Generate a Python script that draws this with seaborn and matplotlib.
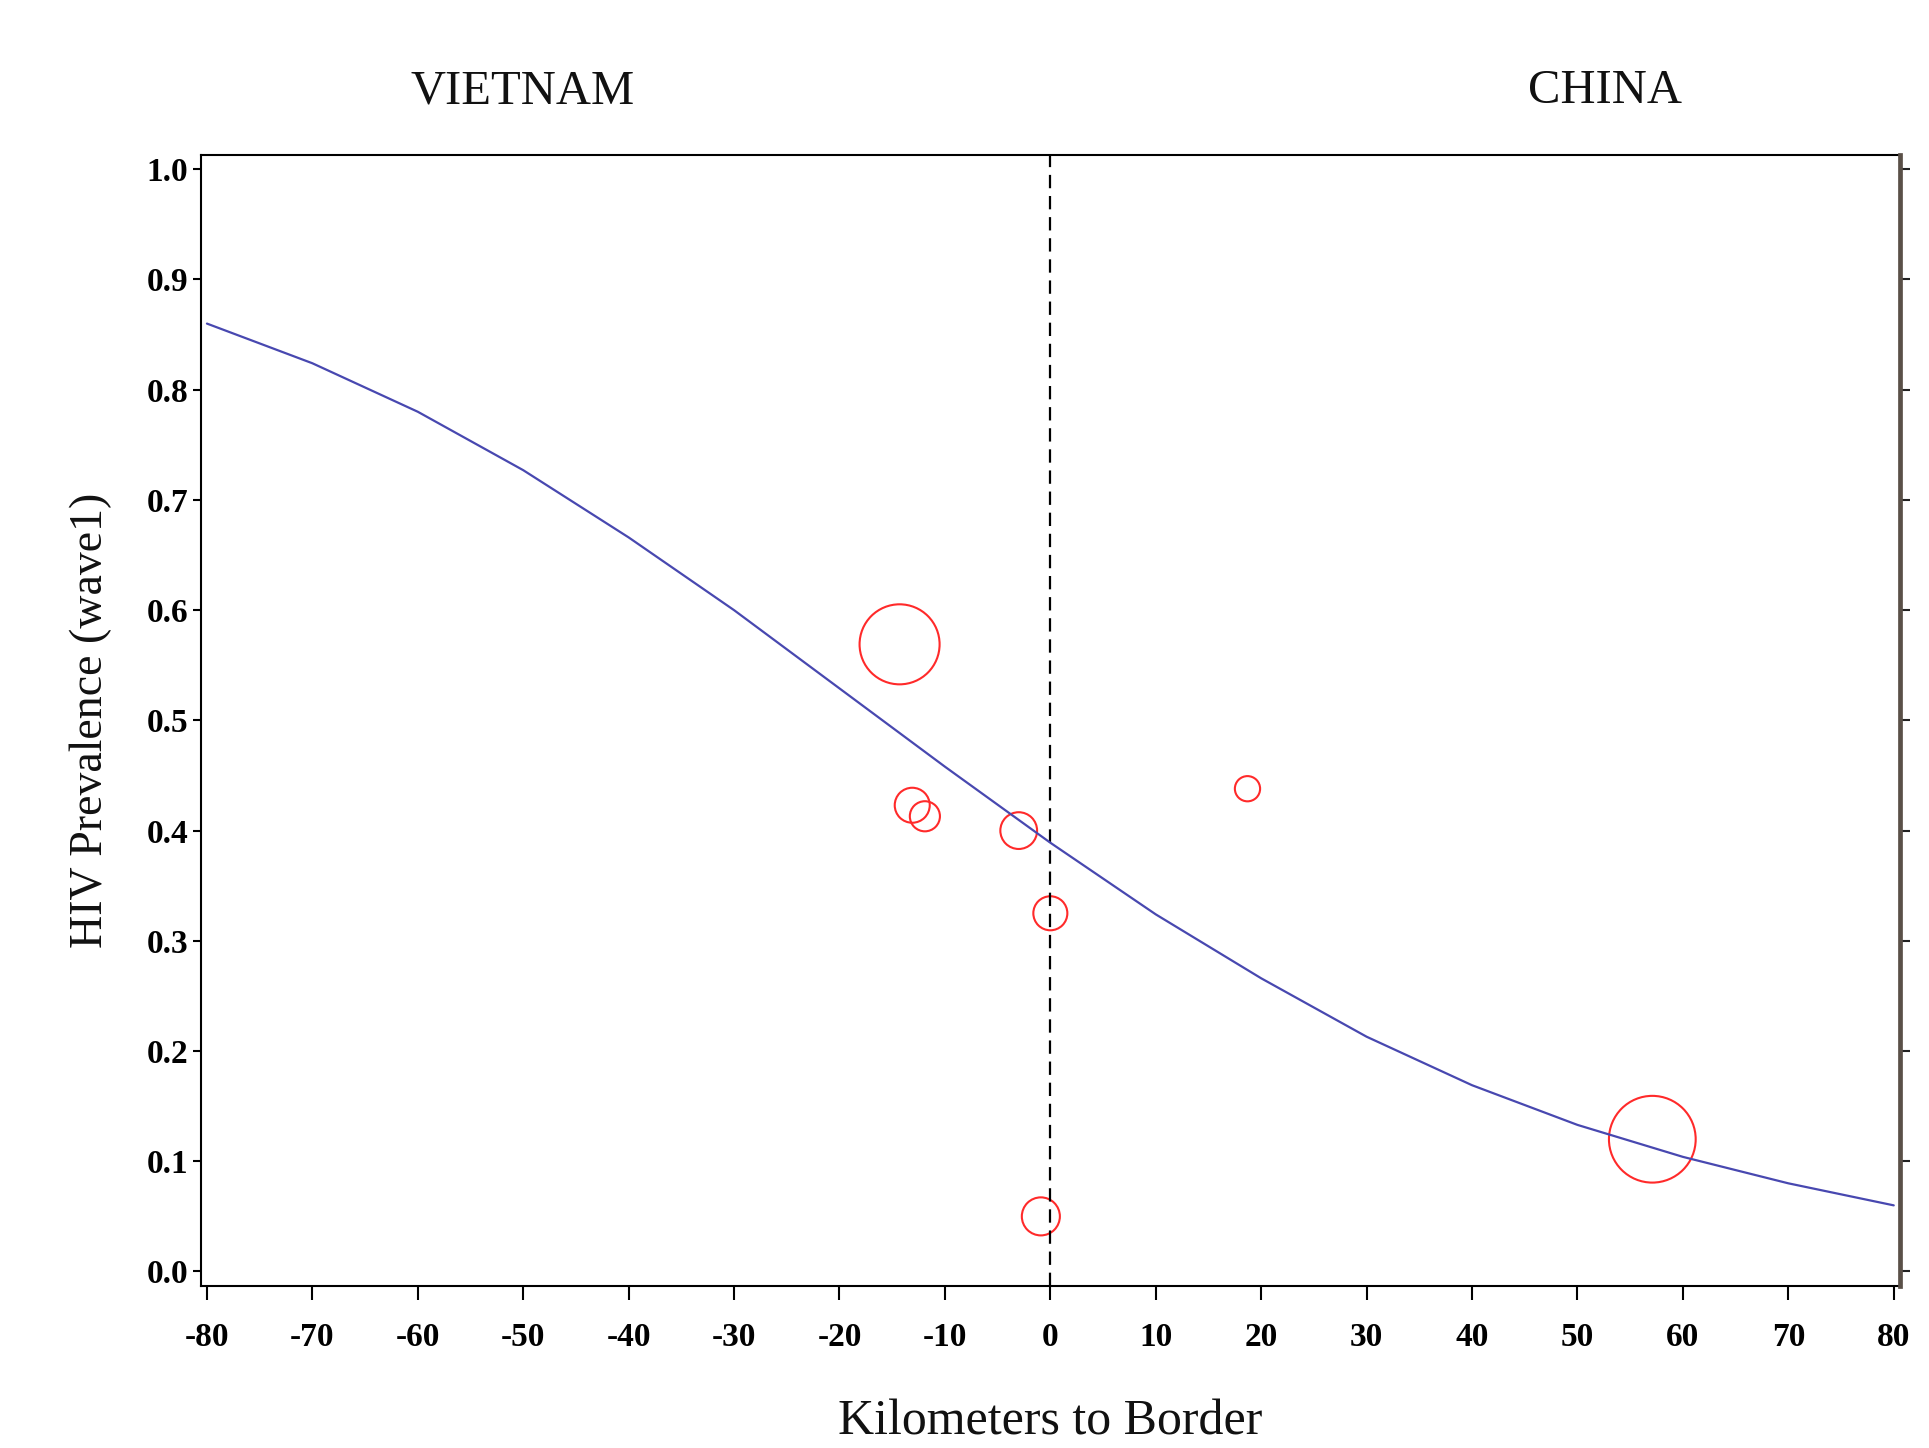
import matplotlib
matplotlib.use("Agg")
import matplotlib.pyplot as plt
import seaborn as sns
import pandas as pd
import numpy as np

# fitted curve
curve_km = [-80, -70, -60, -50, -40, -30, -20, -10, 0, 10, 20, 30, 40, 50, 60, 70, 80]
curve_prev = [0.860, 0.824, 0.780, 0.727, 0.666, 0.600, 0.529, 0.458, 0.389, 0.324, 0.266, 0.213, 0.169, 0.133, 0.104, 0.080, 0.060]

# observed sites (bubbles)
site_km = [-14.3, -13.1, -11.9, -3.0, 0.0, -0.9, 18.7, 57.1]
site_prev = [0.569, 0.423, 0.413, 0.400, 0.325, 0.050, 0.438, 0.120]
site_size = [3320, 635, 470, 700, 600, 750, 330, 3900]

x_ticks = list(range(-80, 81, 10))
y_ticks = [0.0, 0.1, 0.2, 0.3, 0.4, 0.5, 0.6, 0.7, 0.8, 0.9, 1.0]

sns.set_theme(style="white")
plt.rcParams['font.family'] = ['Liberation Serif', 'DejaVu Serif']

fig = plt.figure(figsize=(19.29, 14.48), dpi=100)
ax = fig.add_axes([0.104, 0.112, 0.881, 0.781])

curve_df = pd.DataFrame({"km": curve_km, "prev": curve_prev})
site_df = pd.DataFrame({"km": site_km, "prev": site_prev})

sns.lineplot(data=curve_df, x="km", y="prev", ax=ax, color="#4848b0", linewidth=1.6)
sns.scatterplot(data=site_df, x="km", y="prev", ax=ax, s=site_size,
                facecolor="none", edgecolor="#ff2a2a", linewidth=1.5, legend=False)
ax.axvline(0, color="black", linestyle=(0, (6, 3.5)), linewidth=1.6, zorder=1)

ax.set_xlim(-80.6, 80.6)
ax.set_ylim(-0.013, 1.013)
ax.set_xticks(x_ticks)
ax.set_xticklabels([str(v) for v in x_ticks])
ax.set_yticks(y_ticks)
ax.set_yticklabels([f"{v:.1f}" for v in y_ticks])

for lab in ax.get_xticklabels() + ax.get_yticklabels():
    lab.set_fontweight("bold")
ax.tick_params(axis="x", direction="out", length=10, width=1.5, labelsize=24, pad=16, bottom=True, colors="black")
ax.tick_params(axis="y", direction="out", length=6, width=1.5, labelsize=24, pad=3, left=True, colors="black")

for side in ["left", "bottom", "top"]:
    ax.spines[side].set_color("black")
    ax.spines[side].set_linewidth(1.5)
ax.spines["right"].set_visible(False)

ax.set_xlabel("Kilometers to Border", fontsize=36, color="#111111")
ax.set_ylabel("HIV Prevalence (wave1)", fontsize=33, color="#111111")
ax.xaxis.set_label_coords(0.5, -0.10)
ax.yaxis.set_label_coords(-0.052, 0.5)

ax2 = ax.twinx()
ax2.set_ylim(ax.get_ylim())
ax2.set_yticks(y_ticks)
ax2.set_yticklabels([f"{v:.1f}" for v in y_ticks])
for lab in ax2.get_yticklabels():
    lab.set_fontweight("bold")
ax2.tick_params(axis="y", direction="out", length=7, width=1.5, labelsize=24, pad=14, right=True, colors="#222222")
ax2.spines["right"].set_color("#5a5048")
ax2.spines["right"].set_linewidth(3.4)
for side in ["left", "bottom", "top"]:
    ax2.spines[side].set_visible(False)

fig.text(0.271, 0.937, "VIETNAM", fontsize=35, ha="center", va="center", color="#111111")
fig.text(0.832, 0.937, "CHINA", fontsize=35, ha="center", va="center", color="#111111")

fig.savefig("out.png", dpi=100, facecolor="white")
